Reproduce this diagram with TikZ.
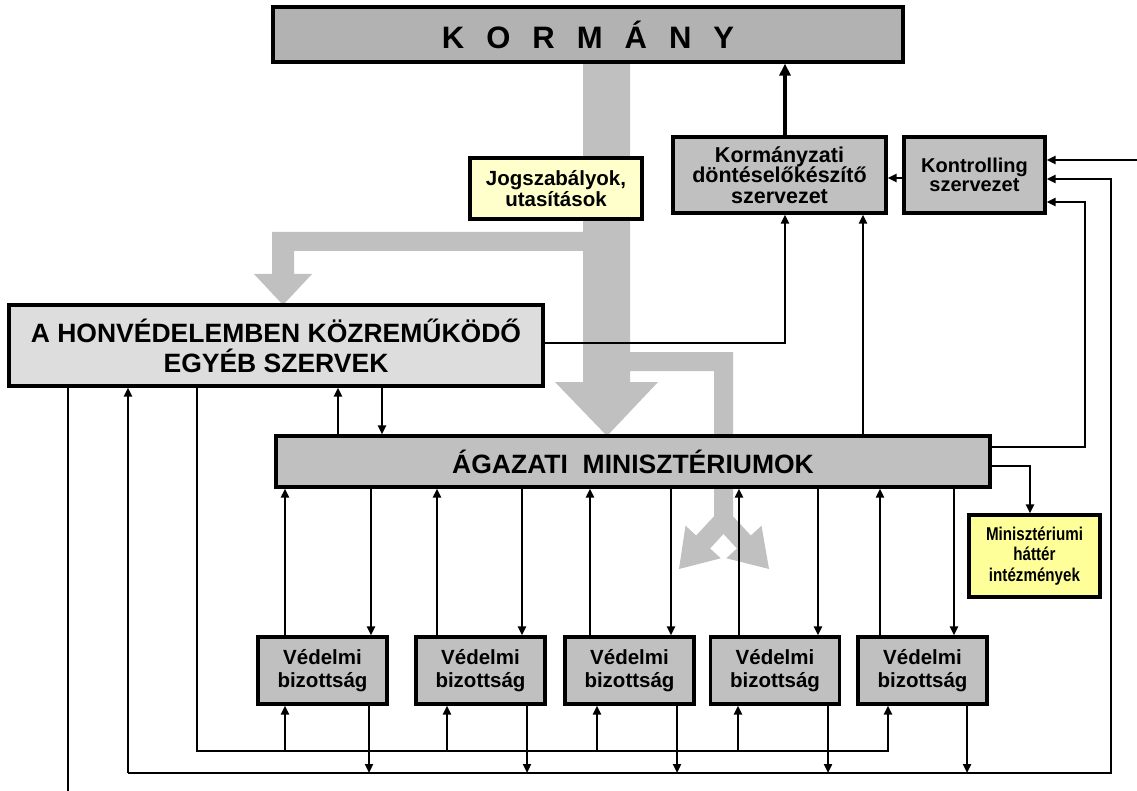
\documentclass[tikz,border=0pt]{standalone}
\usepackage{fontspec}
\setmainfont{Liberation Sans}
\newfontfamily\narrowfont[FakeStretch=0.82]{Liberation Sans}
\usetikzlibrary{arrows.meta}

\definecolor{korgray}{HTML}{B2B2B2}
\definecolor{boxgray}{HTML}{C0C0C0}
\definecolor{lightbox}{HTML}{DDDDDD}
\definecolor{flowgray}{HTML}{C0C0C0}
\definecolor{paleyellow}{HTML}{FFFFCC}
\definecolor{noteyellow}{HTML}{FFFF99}

\tikzset{
  box/.style={draw=black, line width=3.2pt, fill=boxgray, inner sep=0pt,
              align=center, font=\bfseries},
  conn/.style={draw=black, line width=2.2pt},
  arr/.style={conn, -{Triangle[length=9pt,width=8pt]}},
  bigarr/.style={draw=black, line width=3.8pt, -{Triangle[length=12pt,width=11pt]}},
  flow/.style={fill=flowgray, draw=none}
}

\begin{document}
\begin{tikzpicture}[x=1pt, y=-1pt]
\useasboundingbox (0,0) rectangle (1137,791);
\fill[white] (0,0) rectangle (1137,791);

% ---- broad grey flow arrows (regulations) ----
\fill[flow] (583,60) -- (630,60) -- (630,382) -- (658,382) -- (607,436)
            -- (555,382) -- (583,382) -- cycle;
\fill[flow] (583,232) -- (272,232) -- (272,274) -- (254,274) -- (283,305)
            -- (312,274) -- (294,274) -- (294,251) -- (583,251) -- cycle;
\fill[flow] (630,352) -- (733,352) -- (733,528) -- (714,528) -- (714,371)
            -- (630,371) -- cycle;
\fill[flow] (716.54,513.54) -- (696.14,535.54) -- (685.5,525.7) -- (679.0,569.0)
            -- (720.7,558.3) -- (710.06,548.46) -- (730.46,526.46) -- cycle;
\fill[flow] (730.46,513.54) -- (750.86,535.54) -- (761.5,525.7) -- (769.0,569.0)
            -- (726.3,558.3) -- (736.94,548.46) -- (716.54,526.46) -- cycle;

% ---- boxes ----
\node[box, fill=korgray, minimum width=630pt, minimum height=55pt,
      font=\bfseries\fontsize{31}{33}\selectfont] (kor) at (588,34.5)
  {K\hspace{22pt}O\hspace{22pt}R\hspace{22pt}M\hspace{22pt}Á\hspace{22pt}N\hspace{22pt}Y};

\node[box, fill=paleyellow, minimum width=172pt, minimum height=61pt,
      font=\bfseries\fontsize{20.5}{20.5}\selectfont] (jog) at (556,188.5)
  {Jogszabályok,\\utasítások};

\node[box, minimum width=213pt, minimum height=76pt,
      font=\bfseries\fontsize{21.5}{20.5}\selectfont] (kdo) at (779.5,175)
  {Kormányzati\\döntéselőkészítő\\szervezet};

\node[box, minimum width=141pt, minimum height=76pt,
      font=\bfseries\fontsize{20}{19.5}\selectfont] (kon) at (974.5,175)
  {Kontrolling\\szervezet};

\node[box, fill=lightbox, minimum width=534pt, minimum height=81pt,
      font=\bfseries\fontsize{26.5}{30}\selectfont] (hon) at (276,345.5)
  {A HONVÉDELEMBEN KÖZREMŰKÖDŐ\\EGYÉB SZERVEK};

\node[box, minimum width=714pt, minimum height=51pt,
      font=\bfseries\fontsize{26.5}{28}\selectfont] (ag) at (633,461.5)
  {ÁGAZATI\ \ MINISZTÉRIUMOK};

\node[box, fill=noteyellow, minimum width=131pt, minimum height=82pt,
      font=\narrowfont\bfseries\fontsize{18.5}{20.5}\selectfont] (min) at (1034.5,556)
  {Minisztériumi\\háttér\\intézmények};

\foreach \i/\cx in {1/322.5, 2/480.5, 3/629.5, 4/775, 5/922.5}
  \node[box, minimum width=129pt, minimum height=67pt,
        font=\bfseries\fontsize{20.5}{23}\selectfont] (v\i) at (\cx,670.5)
    {Védelmi\\bizottság};

% ---- connectors ----
\draw[bigarr] (785,0 |- kdo.north) -- (785,0 |- kor.south);
\draw[arr] (kon.west |- 0,178) -- (kdo.east |- 0,178);

\draw[arr] (hon.east |- 0,343) -- (785,343) -- (785,0 |- kdo.south);
\draw[arr] (863,0 |- ag.north) -- (863,0 |- kdo.south);

\draw[arr] (ag.east |- 0,447) -- (1085,447) -- (1085,202) -- (kon.east |- 0,202);
\draw[arr] (ag.east |- 0,466) -- (1030,466) -- (1030,0 |- min.north);

\coordinate (rin) at (1137,160);
\draw[arr] (rin) -- (kon.east |- rin);

% lower feedback bus
\draw[arr] (128,773) -- (128,0 |- hon.south);
\draw[arr] (128,773) -- (1111,773) -- (1111,179) -- (kon.east |- 0,179);

% free line on the far left
\coordinate (lend) at (68,791);
\draw[conn] (68,0 |- hon.south) -- (lend);

% upper distribution bus to the committees
\draw[arr] (197,0 |- hon.south) -- (197,751) -- (888,751) -- (888,0 |- v5.south);
\foreach \i/\x in {1/285, 2/447, 3/597, 4/738}
  \draw[arr] (\x,751) -- (\x,0 |- v\i.south);

% committees down to the lower bus
\foreach \i/\x in {1/369, 2/527, 3/677, 4/828, 5/967}
  \draw[arr] (\x,0 |- v\i.south) -- (\x,773);

% ministries <-> committees
\foreach \i/\x in {1/285, 2/437, 3/590, 4/739, 5/880}
  \draw[arr] (\x,0 |- v\i.north) -- (\x,0 |- ag.south);
\foreach \i/\x in {1/371, 2/522, 3/671, 4/818, 5/954}
  \draw[arr] (\x,0 |- ag.south) -- (\x,0 |- v\i.north);

% other bodies <-> ministries
\draw[arr] (338,0 |- ag.north) -- (338,0 |- hon.south);
\draw[arr] (382,0 |- hon.south) -- (382,0 |- ag.north);
\end{tikzpicture}
\end{document}
